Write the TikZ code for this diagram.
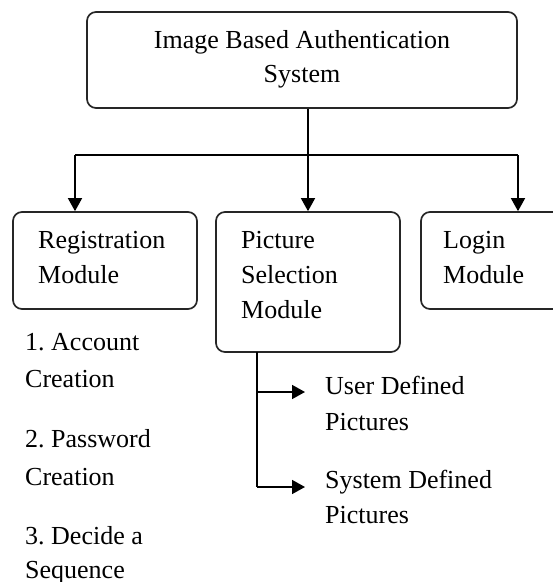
\documentclass[tikz,border=0pt]{standalone}
\usepackage{fontspec}
\setmainfont{Liberation Serif}
\usetikzlibrary{arrows.meta}
\frenchspacing
\begin{document}
\begin{tikzpicture}[x=1pt,y=-1pt,
  box/.style={draw=black!85, line width=1.7pt, rounded corners=9pt, inner sep=0pt},
  txt/.style={anchor=base west, inner sep=0pt, align=left, font=\fontsize{26}{35}\selectfont},
  conn/.style={line width=1.6pt},
  arr/.style={conn, -{Triangle[width=14pt,length=13pt]}}]
\useasboundingbox (0,0) rectangle (553,582);
\clip (0,0) rectangle (553,582);
% boxes
\node[box, minimum width=430pt, minimum height=96pt] (top) at (302,60) {};
\node[box, minimum width=184pt, minimum height=97pt] (reg) at (105,260.5) {};
\node[box, minimum width=184pt, minimum height=140pt] (pic) at (308,282) {};
\node[box, minimum width=184pt, minimum height=97pt] (login) at (513,260.5) {};
% texts (base anchor = baseline of the last line)
\node[txt, anchor=base, align=center, font=\fontsize{26}{34}\selectfont] (toptext) at (302,82) {Image Based Authentication\\System};
\node[txt] (regtext) at (38,283) {Registration\\Module};
\node[txt] (pictext) at (241,318) {Picture\\Selection\\Module};
\node[txt] (logintext) at (443,283) {Login\\Module};
\node[txt, font=\fontsize{26}{37}\selectfont] (s1) at (25,387) {1. Account\\Creation};
\node[txt, font=\fontsize{26}{38}\selectfont] (s2) at (25,485) {2. Password\\Creation};
\node[txt, font=\fontsize{26}{34}\selectfont] (s3) at (25,578) {3. Decide a\\Sequence};
\node[txt, font=\fontsize{26}{36}\selectfont] (ud) at (325,430) {User Defined\\Pictures};
\node[txt, font=\fontsize{26}{35}\selectfont] (sd) at (325,523) {System Defined\\Pictures};
% connectors
\coordinate (bl) at (75,155);
\coordinate (br) at (518,155);
\draw[arr] (top.south -| pic.north) -- (pic.north);
\draw[conn] (bl) -- (br);
\draw[arr] (bl) -- (bl |- reg.north);
\draw[arr] (br) -- (br |- login.north);
\coordinate (pv) at (257,352);
\coordinate (t1) at (305,392);
\coordinate (t2) at (305,487);
\draw[conn] (pv) -- (pv |- t2);
\draw[arr] (pv |- t1) -- (t1);
\draw[arr] (pv |- t2) -- (t2);
\end{tikzpicture}
\end{document}
